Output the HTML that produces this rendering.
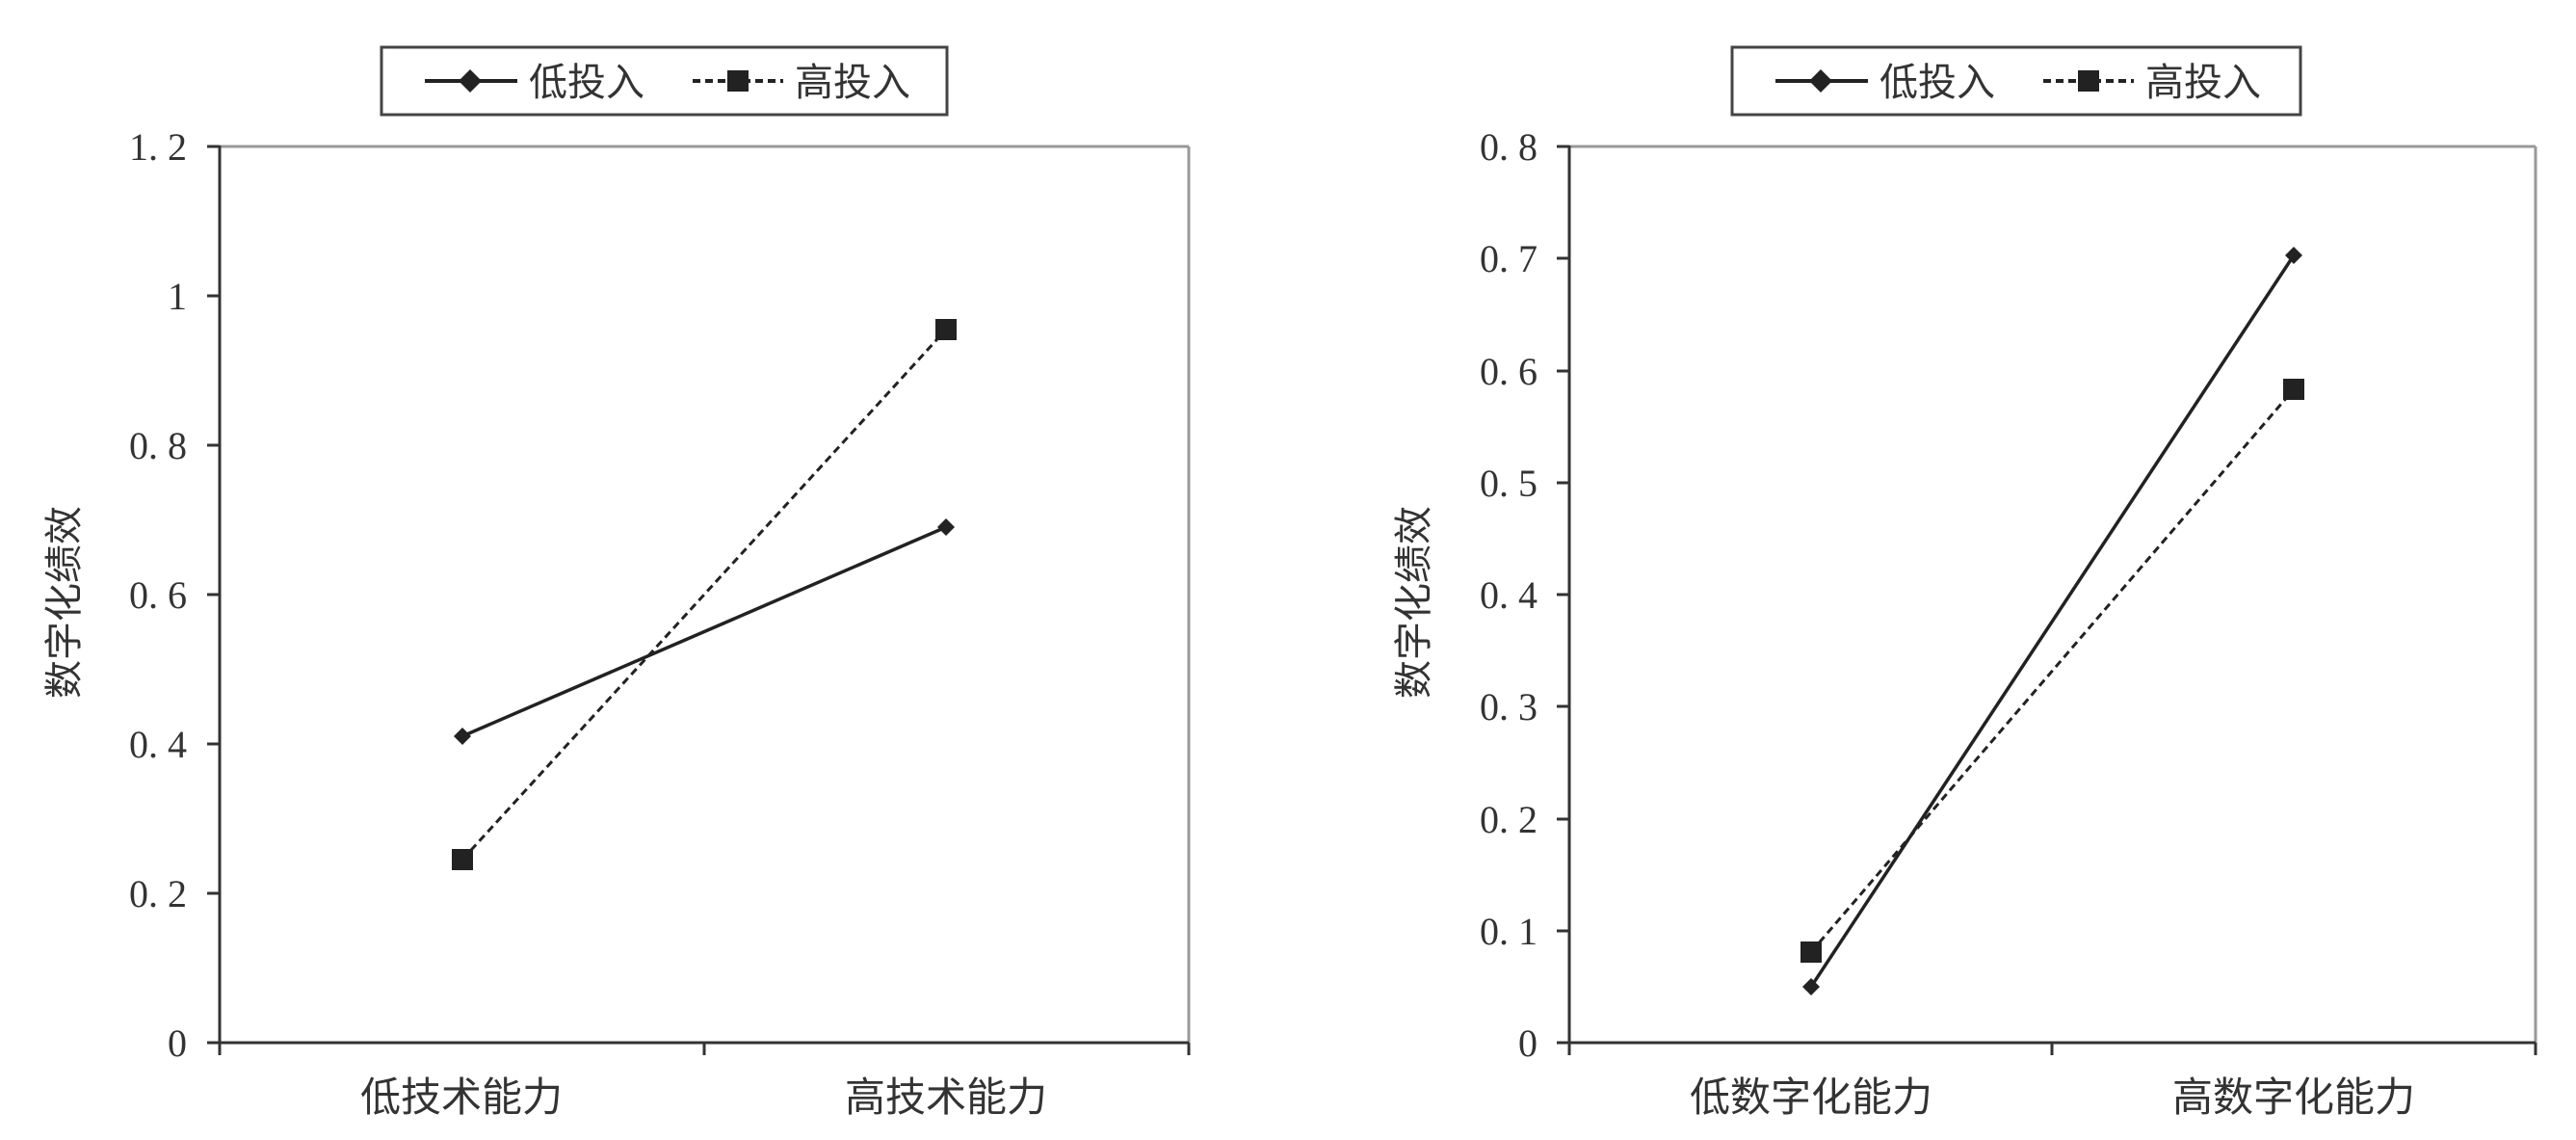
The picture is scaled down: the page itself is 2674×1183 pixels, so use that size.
<!DOCTYPE html>
<html><head><meta charset="utf-8"><style>
html,body{margin:0;padding:0;background:#fff;}
svg{display:block;}
text{font-family:"Liberation Serif","Noto Serif CJK SC",serif;fill:#333;}
.cj{font-family:"Liberation Sans","Noto Sans CJK SC",sans-serif;}
</style></head><body>
<svg width="2674" height="1183" viewBox="0 0 2674 1183" xmlns="http://www.w3.org/2000/svg">
<!-- LEFT CHART -->
<g>
<rect x="396" y="49" width="587" height="70" fill="#fff" stroke="#444" stroke-width="3"/>
<line x1="441" y1="84" x2="537" y2="84" stroke="#222" stroke-width="4"/>
<polygon points="488,72 500,84 488,96 476,84" fill="#222"/>
<text class="cj" x="549" y="99" font-size="40">低投入</text>
<line x1="719" y1="84" x2="813" y2="84" stroke="#222" stroke-width="4" stroke-dasharray="8,5"/>
<rect x="755" y="73" width="22" height="22" fill="#222"/>
<text class="cj" x="825" y="99" font-size="40">高投入</text>

<line x1="228" y1="152" x2="1234" y2="152" stroke="#999" stroke-width="3"/>
<line x1="1234" y1="152" x2="1234" y2="1082" stroke="#999" stroke-width="3"/>
<line x1="228" y1="151" x2="228" y2="1095" stroke="#333" stroke-width="3"/>
<line x1="215" y1="1082" x2="1234" y2="1082" stroke="#333" stroke-width="3"/>
<g stroke="#333" stroke-width="3">
<line x1="215" y1="152" x2="228" y2="152"/><line x1="215" y1="307" x2="228" y2="307"/>
<line x1="215" y1="462" x2="228" y2="462"/><line x1="215" y1="617" x2="228" y2="617"/>
<line x1="215" y1="772" x2="228" y2="772"/><line x1="215" y1="927" x2="228" y2="927"/>
<line x1="731" y1="1082" x2="731" y2="1095"/><line x1="1234" y1="1082" x2="1234" y2="1095"/>
</g>
<g font-size="40" text-anchor="end">
<text x="194" y="166">1. 2</text><text x="194" y="321">1</text><text x="194" y="476">0. 8</text>
<text x="194" y="631">0. 6</text><text x="194" y="786">0. 4</text><text x="194" y="941">0. 2</text>
<text x="194" y="1096">0</text>
</g>
<text class="cj" font-size="40" text-anchor="middle" transform="translate(80,625) rotate(-90)">数字化绩效</text>
<text class="cj" font-size="42" text-anchor="middle" x="479" y="1153">低技术能力</text>
<text class="cj" font-size="42" text-anchor="middle" x="982" y="1153">高技术能力</text>
<line x1="480" y1="764" x2="982" y2="547" stroke="#222" stroke-width="3.5"/>
<polygon points="480,755 489,764 480,773 471,764" fill="#222"/>
<polygon points="982,538 991,547 982,556 973,547" fill="#222"/>
<line x1="480" y1="892" x2="982" y2="342" stroke="#222" stroke-width="3" stroke-dasharray="8,5"/>
<rect x="469" y="881" width="22" height="22" fill="#222"/>
<rect x="971" y="331" width="22" height="22" fill="#222"/>
</g>

<!-- RIGHT CHART -->
<g>
<rect x="1798" y="49" width="590" height="70" fill="#fff" stroke="#444" stroke-width="3"/>
<line x1="1843" y1="84" x2="1939" y2="84" stroke="#222" stroke-width="4"/>
<polygon points="1890,72 1902,84 1890,96 1878,84" fill="#222"/>
<text class="cj" x="1951" y="99" font-size="40">低投入</text>
<line x1="2121" y1="84" x2="2215" y2="84" stroke="#222" stroke-width="4" stroke-dasharray="8,5"/>
<rect x="2157" y="73" width="22" height="22" fill="#222"/>
<text class="cj" x="2227" y="99" font-size="40">高投入</text>

<line x1="1629" y1="152" x2="2632" y2="152" stroke="#999" stroke-width="3"/>
<line x1="2632" y1="152" x2="2632" y2="1082" stroke="#999" stroke-width="3"/>
<line x1="1629" y1="151" x2="1629" y2="1095" stroke="#333" stroke-width="3"/>
<line x1="1616" y1="1082" x2="2632" y2="1082" stroke="#333" stroke-width="3"/>
<g stroke="#333" stroke-width="3">
<line x1="1616" y1="152" x2="1629" y2="152"/><line x1="1616" y1="268" x2="1629" y2="268"/>
<line x1="1616" y1="385" x2="1629" y2="385"/><line x1="1616" y1="501" x2="1629" y2="501"/>
<line x1="1616" y1="617" x2="1629" y2="617"/><line x1="1616" y1="733" x2="1629" y2="733"/>
<line x1="1616" y1="850" x2="1629" y2="850"/><line x1="1616" y1="966" x2="1629" y2="966"/>
<line x1="2130" y1="1082" x2="2130" y2="1095"/><line x1="2632" y1="1082" x2="2632" y2="1095"/>
</g>
<g font-size="40" text-anchor="end">
<text x="1596" y="166">0. 8</text><text x="1596" y="282">0. 7</text><text x="1596" y="399">0. 6</text>
<text x="1596" y="515">0. 5</text><text x="1596" y="631">0. 4</text><text x="1596" y="747">0. 3</text>
<text x="1596" y="864">0. 2</text><text x="1596" y="980">0. 1</text><text x="1596" y="1096">0</text>
</g>
<text class="cj" font-size="40" text-anchor="middle" transform="translate(1481,625) rotate(-90)">数字化绩效</text>
<text class="cj" font-size="42" text-anchor="middle" x="1880" y="1153">低数字化能力</text>
<text class="cj" font-size="42" text-anchor="middle" x="2381" y="1153">高数字化能力</text>
<line x1="1880" y1="1024" x2="2381" y2="265" stroke="#222" stroke-width="3.5"/>
<polygon points="1880,1015 1889,1024 1880,1033 1871,1024" fill="#222"/>
<polygon points="2381,256 2390,265 2381,274 2372,265" fill="#222"/>
<line x1="1880" y1="988" x2="2381" y2="404" stroke="#222" stroke-width="3" stroke-dasharray="8,5"/>
<rect x="1869" y="977" width="22" height="22" fill="#222"/>
<rect x="2370" y="393" width="22" height="22" fill="#222"/>
</g>
</svg>
</body></html>
